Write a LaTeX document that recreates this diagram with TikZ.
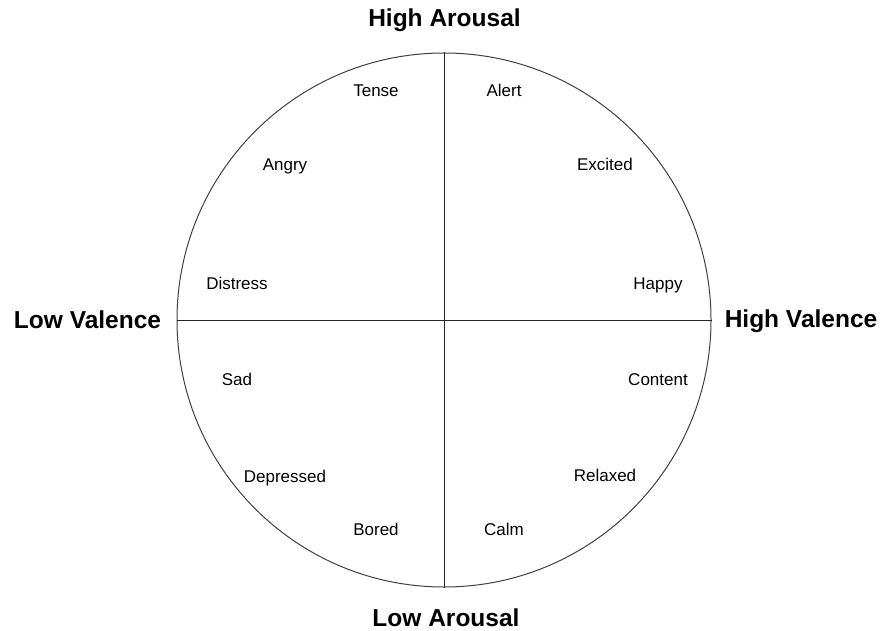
\documentclass[tikz,border=0pt]{standalone}
\usepackage{fontspec}
\setmainfont{Liberation Sans}
\begin{document}
\begin{tikzpicture}[x=1pt,y=-1pt,
  axislabel/.style={font=\fontsize{24.5}{28}\selectfont\bfseries, inner sep=0pt, anchor=base},
  emo/.style={font=\fontsize{17}{20}\selectfont, inner sep=0pt, anchor=base},
  ln/.style={line width=1pt, draw=black!85}]
\useasboundingbox (0,0) rectangle (883,631);
\coordinate (c) at (444,320);
\node[draw=black!75, line width=1pt, circle, minimum size=534pt, inner sep=0pt] (circ) at (c) {};
\draw[ln] (circ.north) -- (circ.south);
\draw[ln] (circ.west) -- (circ.east);
\node[axislabel] (ha) at (444.5,27) {High Arousal};
\node[axislabel] (la) at (446,626.5) {Low Arousal};
\node[axislabel] (lv) at (87.5,328) {Low Valence};
\node[axislabel] (hv) at (801,327) {High Valence};
\node[emo] (tense) at (376,97) {Tense};
\node[emo] (alert) at (504,97) {Alert};
\node[emo] (angry) at (285,171) {Angry};
\node[emo] (excited) at (605,171) {Excited};
\node[emo] (distress) at (237,289) {Distress};
\node[emo] (happy) at (658,289) {Happy};
\node[emo] (sad) at (237,385) {Sad};
\node[emo] (content) at (658,385) {Content};
\node[emo] (depressed) at (285,482) {Depressed};
\node[emo] (relaxed) at (605,481) {Relaxed};
\node[emo] (bored) at (376,535) {Bored};
\node[emo] (calm) at (504,535) {Calm};
\end{tikzpicture}
\end{document}
